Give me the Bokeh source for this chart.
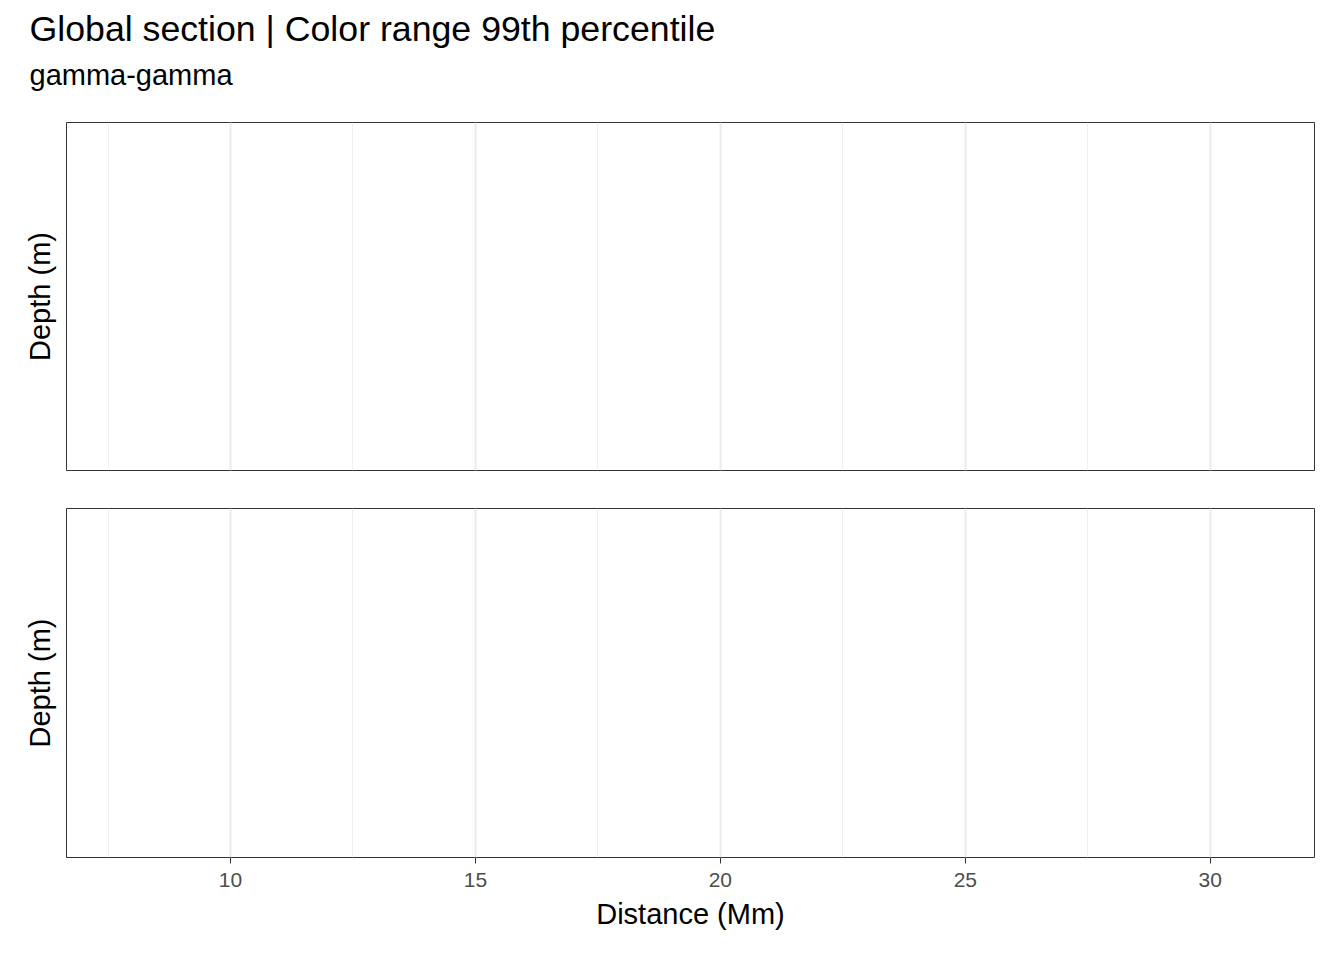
from bokeh.plotting import figure
from bokeh.layouts import column
from bokeh.models import Range1d, FixedTicker, Title
from bokeh.embed import file_html
from bokeh.resources import INLINE

# ---- data ----
distance_limits = [7.81, 30.97]          # data extent along the section (Mm)
x_ticks = [10, 15, 20, 25, 30]
x_minor_ticks = [7.5, 12.5, 17.5, 22.5, 27.5]
panel_names = ["upper", "lower"]
title_text = "Global section | Color range 99th percentile"
subtitle_text = "gamma-gamma"
x_label = "Distance (Mm)"
y_label = "Depth (m)"

FONT = "Liberation Sans"
span = distance_limits[1] - distance_limits[0]
x_lo = distance_limits[0] - 0.05 * span
x_hi = distance_limits[1] + 0.05 * span


def make_panel(name, height, top, bottom, show_x):
    p = figure(width=1336, height=height, output_backend="svg", toolbar_location=None,
               x_range=Range1d(x_lo, x_hi), y_range=Range1d(0, 1),
               min_border_left=66, min_border_right=22,
               min_border_top=top, min_border_bottom=bottom)
    p.background_fill_color = "white"
    p.border_fill_color = "white"
    p.outline_line_color = "#333333"
    p.outline_line_width = 1
    p.outline_line_alpha = 1

    ticker = FixedTicker(ticks=x_ticks, minor_ticks=x_minor_ticks)
    p.xaxis.ticker = ticker
    p.xgrid.ticker = ticker
    p.xgrid.grid_line_color = "#EBEBEB"
    p.xgrid.grid_line_width = 2
    p.xgrid.minor_grid_line_color = "#EFEFEF"
    p.xgrid.minor_grid_line_width = 1
    p.ygrid.visible = False

    p.yaxis.ticker = FixedTicker(ticks=[])
    p.yaxis.axis_line_color = None
    p.yaxis.major_tick_line_color = None
    p.yaxis.minor_tick_line_color = None
    p.yaxis.axis_label = y_label
    p.yaxis.axis_label_text_font = FONT
    p.yaxis.axis_label_text_font_size = "29px"
    p.yaxis.axis_label_text_font_style = "normal"
    p.yaxis.axis_label_text_color = "black"
    p.yaxis.axis_label_standoff = 11

    if show_x:
        p.xaxis.axis_line_color = None
        p.xaxis.major_tick_line_color = "#333333"
        p.xaxis.major_tick_line_width = 1
        p.xaxis.major_tick_out = 6
        p.xaxis.major_tick_in = 0
        p.xaxis.minor_tick_line_color = None
        p.xaxis.major_label_text_font = FONT
        p.xaxis.major_label_text_font_size = "21px"
        p.xaxis.major_label_text_color = "#4D4D4D"
        p.xaxis.major_label_standoff = 9
        p.xaxis.axis_label = x_label
        p.xaxis.axis_label_text_font = FONT
        p.xaxis.axis_label_text_font_size = "29px"
        p.xaxis.axis_label_text_font_style = "normal"
        p.xaxis.axis_label_text_color = "black"
        p.xaxis.axis_label_standoff = 8
    else:
        p.xaxis.visible = False
    return p


p1 = make_panel(panel_names[0], 489, 122, 19, False)
p2 = make_panel(panel_names[1], 463, 19, 95, True)

sub = Title(text=subtitle_text, align="left", text_font=FONT, text_font_size="29px",
            text_font_style="normal", text_color="black", offset=-37, standoff=63)
main = Title(text=title_text, align="left", text_font=FONT, text_font_size="35.7px",
             text_font_style="normal", text_color="black", offset=-37, standoff=-47)
p1.add_layout(sub, "above")
p1.add_layout(main, "above")

layout = column(p1, p2)
open("out.html", "w").write(file_html(layout, INLINE))
